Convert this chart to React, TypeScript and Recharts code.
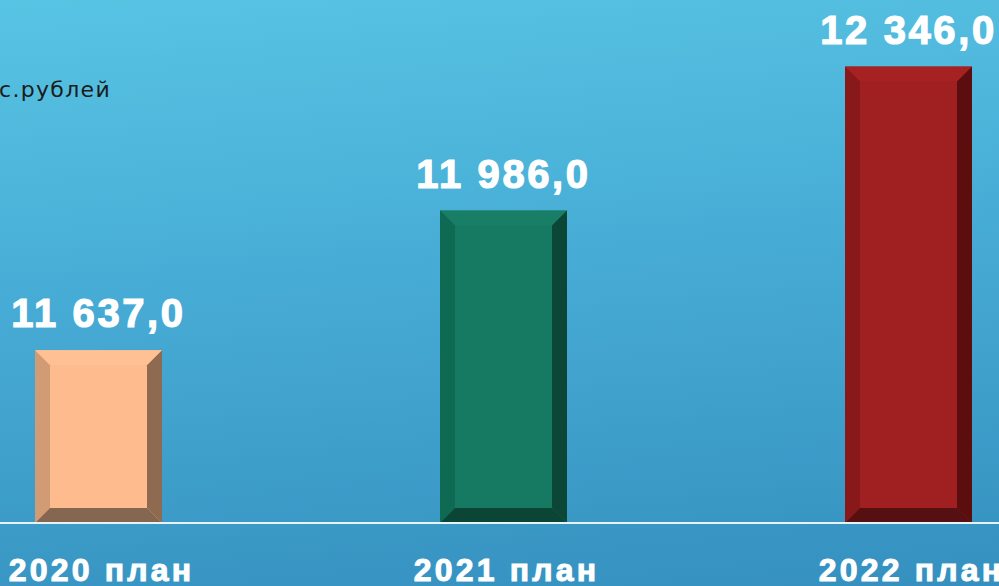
import { BarChart, Bar, XAxis, YAxis, LabelList, Cell } from 'recharts';

const years = ['2020 план', '2021 план', '2022 план'];
const amounts = [11637.0, 11986.0, 12346.0];

const faces = [
  { face: '#febb8d', top: '#ffc193', left: '#d09b75', right: '#8d6a50', bottom: '#856650' },
  { face: '#167a62', top: '#187e66', left: '#0f6a53', right: '#0b4636', bottom: '#0b4535' },
  { face: '#a01f20', top: '#a62222', left: '#881819', right: '#5c0e0f', bottom: '#561012' },
];

const data = years.map((name, i) => ({ name, value: amounts[i] }));

const fmt = (v: number) => {
  const [int, dec] = v.toFixed(1).split('.');
  return int.replace(/\B(?=(\d{3})+(?!\d))/g, ' ') + ',' + dec;
};

function BevelBar(props: any) {
  const { x, y, width, height, index } = props;
  const c = faces[index] || faces[0];
  const b = 15;
  const x2 = x + width;
  const y2 = y + height;
  return (
    <g>
      <rect x={x} y={y} width={width} height={height} fill={c.face} />
      <polygon points={`${x},${y} ${x2},${y} ${x2 - b},${y + b} ${x + b},${y + b}`} fill={c.top} />
      <polygon points={`${x},${y} ${x + b},${y + b} ${x + b},${y2 - b} ${x},${y2}`} fill={c.left} />
      <polygon points={`${x2},${y} ${x2},${y2} ${x2 - b},${y2 - b} ${x2 - b},${y + b}`} fill={c.right} />
      <polygon points={`${x},${y2} ${x + b},${y2 - b} ${x2 - b},${y2 - b} ${x2},${y2}`} fill={c.bottom} />
    </g>
  );
}

function YearTick(props: any) {
  const { x, y, payload } = props;
  return (
    <text
      x={x + 3}
      y={y + 58}
      textAnchor="middle"
      fill="#ffffff"
      stroke="#ffffff"
      strokeWidth={1}
      fontFamily="'Liberation Sans', Arial, sans-serif"
      fontWeight="bold"
      fontSize={32}
      letterSpacing={3.2}
    >
      {payload.value}
    </text>
  );
}

export default function App() {
  return (
    <div
      style={{
        position: 'absolute',
        left: 0,
        top: 0,
        width: 999,
        height: 586,
        overflow: 'hidden',
        background: 'linear-gradient(175deg, #58c4e4 0%, #47acd5 45%, #3590bf 100%)',
      }}
    >
      <div style={{ position: 'absolute', left: -104, top: 0 }}>
        <BarChart width={1215} height={586} data={data} margin={{ top: 3, right: 0, left: 0, bottom: 0 }}>
          <XAxis
            dataKey="name"
            height={63}
            axisLine={{ stroke: '#e6f3f8', strokeWidth: 2 }}
            tickLine={false}
            tickSize={0}
            tickMargin={0}
            tick={<YearTick />}
            interval={0}
          />
          <YAxis hide domain={[11205, 12505]} allowDataOverflow />
          <Bar dataKey="value" barSize={127} shape={<BevelBar />} isAnimationActive={false}>
            {data.map((d, i) => (
              <Cell key={d.name} fill={faces[i].face} />
            ))}
            <LabelList
              dataKey="value"
              position="top"
              offset={23}
              formatter={(v: any) => fmt(Number(v))}
              fill="#ffffff"
              stroke="#ffffff"
              strokeWidth={1.2}
              fontFamily="'Liberation Sans', Arial, sans-serif"
              fontWeight="bold"
              fontSize={40}
              letterSpacing={2.6}
            />
          </Bar>
        </BarChart>
      </div>
      <svg width={999} height={586} style={{ position: 'absolute', left: 0, top: 0, pointerEvents: 'none' }}>
        <text
          x={111}
          y={97}
          textAnchor="end"
          fill="#1b1b1b"
          fontFamily="'DejaVu Sans', sans-serif"
          fontSize={22}
          letterSpacing={1.3}
        >
          тыс.рублей
        </text>
      </svg>
    </div>
  );
}
